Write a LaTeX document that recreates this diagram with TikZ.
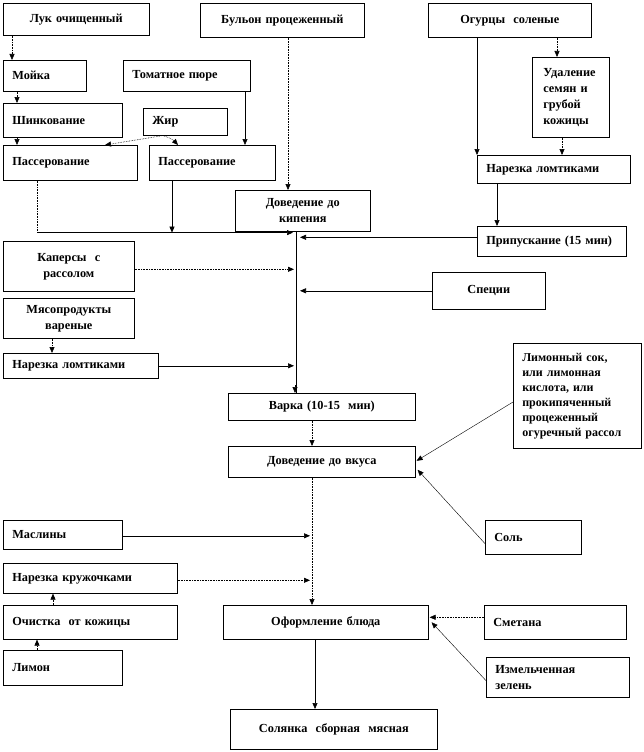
\documentclass[tikz,border=0pt]{standalone}
\usepackage{fontspec}
\setmainfont{Liberation Serif}
\usepackage{tikz}
\usetikzlibrary{positioning,calc,arrows.meta}

\begin{document}
\begin{tikzpicture}[x=1pt,y=-1pt,
    box/.style={draw, line width=0.6pt, anchor=north west, inner xsep=9pt, inner ysep=0pt,
        font=\fontsize{12.3}{16}\selectfont\bfseries},
    lbox/.style 2 args={box, minimum width=#1, minimum height=#2, text width=\dimexpr#1-18pt\relax, align=left},
    cbox/.style 2 args={box, minimum width=#1, minimum height=#2, text width=\dimexpr#1-18pt\relax, align=center},
    conn/.style={line width=0.6pt, -{Triangle[length=6pt,width=5pt]}},
    dconn/.style={conn, densely dotted},
    line/.style={line width=0.6pt}]
    \useasboundingbox (0,0) rectangle (644,752);

    % Raw products
    \node[cbox={146pt}{32pt}] (luk) at (3,3) {Лук очищенный};
    \node[cbox={164pt}{34pt}] (bulon) at (200,3) {Бульон процеженный};
    \node[cbox={163pt}{34pt}] (ogurcy) at (428,3) {Огурцы\ \ соленые};

    % Left column
    \node[lbox={83pt}{31pt}] (moika) at (3,60) {Мойка};
    \node[lbox={127pt}{31pt}] (tomat) at (123,60) {Томатное пюре};
    \node[lbox={119pt}{34pt}] (shink) at (3,103) {Шинкование};
    \node[lbox={84pt}{27pt}] (zhir) at (143,108) {Жир};
    \node[lbox={134pt}{35pt}] (pass1) at (3,145) {Пассерование};
    \node[lbox={126pt}{35pt}] (pass2) at (149,145) {Пассерование};
    \node[cbox={131pt}{50pt}] (kapers) at (3,241) {Каперсы\ \ с\\рассолом};
    \node[cbox={131pt}{40pt}] (myaso) at (3,298) {Мясопродукты\\вареные};
    \node[lbox={155pt}{25pt}] (narezL) at (3,353) {Нарезка ломтиками};
    \node[lbox={119pt}{29pt}] (masliny) at (3,520) {Маслины};
    \node[lbox={174pt}{30pt}] (krug) at (3,563) {Нарезка кружочками};
    \node[lbox={174pt}{34pt}] (ochist) at (3,605) {Очистка\ \ от кожицы};
    \node[lbox={119pt}{35pt}] (limon) at (3,650) {Лимон};

    % Right column
    \node[lbox={77pt}{80pt}, inner xsep=11pt, text width=55pt] (udalen) at (532,57) {Удаление\\семян и\\грубой\\кожицы};
    \node[lbox={153pt}{28pt}] (narezR) at (477,155) {Нарезка ломтиками};
    \node[lbox={149pt}{30pt}] (pripusk) at (477,226) {Припускание (15 мин)};
    \node[cbox={113pt}{37pt}] (specii) at (432,272) {Специи};
    \node[lbox={128pt}{105pt}, font=\fontsize{12}{15}\selectfont\bfseries] (limsok) at (513,343)
        {Лимонный сок,\\или лимонная\\кислота, или\\прокипяченный\\процеженный\\огуречный рассол};
    \node[lbox={96pt}{34pt}] (sol) at (485,520) {Соль};
    \node[lbox={142pt}{34pt}] (smetana) at (484,605) {Сметана};
    \node[lbox={143pt}{40pt}] (zelen) at (486,657) {Измельченная\\зелень};

    % Middle column
    \node[cbox={135pt}{41pt}] (kipen) at (235,190) {Доведение до\\кипения};
    \node[cbox={187pt}{27pt}] (varka) at (228,393) {Варка (10-15\ \ мин)};
    \node[cbox={187pt}{31pt}] (vkus) at (228,446) {Доведение до вкуса};
    \node[cbox={205pt}{34pt}] (oform) at (223,605) {Оформление блюда};
    \node[cbox={207pt}{40pt}] (solyanka) at (230,709) {Солянка\ \ сборная\ \ мясная};

    % Onion line
    \draw[dconn] ([xshift=9pt]luk.south west) -- ([xshift=9pt]moika.north west);
    \draw[dconn] ([xshift=14pt]moika.south west) -- ([xshift=14pt]shink.north west);
    \draw[dconn] ([xshift=14pt]shink.south west) -- ([xshift=14pt]pass1.north west);
    \draw[dconn] ([xshift=20pt]zhir.south west) -- ([xshift=102pt]pass1.north west);
    \draw[dconn] ([xshift=20pt]zhir.south west) to[bend left=15] ([xshift=29pt]pass2.north west);
    \coordinate (tp) at ([xshift=122pt]tomat.south west);
    \draw[conn] (tp) -- (tp |- pass2.north);
    \draw[dconn] ([xshift=88pt]bulon.south west) -- ([xshift=53pt]kipen.north west);

    % Cucumber line
    \draw[conn] ([xshift=49pt]ogurcy.south west) -- (narezR.north west);
    \draw[dconn] ([xshift=129pt]ogurcy.south west) -- ([xshift=25pt]udalen.north west);
    \coordinate (ud) at ([xshift=30pt]udalen.south west);
    \draw[dconn] (ud) -- (ud |- narezR.north);
    \coordinate (nr) at ([xshift=20pt]narezR.south west);
    \draw[conn] (nr) -- (nr |- pripusk.north);

    % Main trunk
    \coordinate (tk) at ([xshift=61pt]kipen.south west);
    \draw[line] (tk) -- (tk |- varka.north);
    \draw[conn] ([xshift=-1pt]tk |- varka.north) ++(0,-8) -- ([xshift=-1pt]tk |- varka.north);
    \coordinate (p1) at ([xshift=34pt]pass1.south west);
    \coordinate (p1b) at ([yshift=-1pt]p1 |- tk);
    \draw[line, densely dotted] (p1) -- (p1b);
    \draw[conn] (p1b) -- ([xshift=-3pt,yshift=-1pt]tk);
    \coordinate (p2) at ([xshift=23pt]pass2.south west);
    \draw[conn] (p2) -- ([yshift=-1pt]p2 |- tk);
    \draw[conn] ([yshift=4pt]pripusk.west) -- ([xshift=4pt,yshift=4pt]tk |- pripusk.west);
    \draw[dconn] ([yshift=-3pt]kapers.east) -- ([xshift=-2pt,yshift=-3pt]tk |- kapers.east);
    \draw[conn] (specii.west) -- ([xshift=4pt]tk |- specii.west);
    \draw[dconn] ([xshift=49pt]myaso.south west) -- ([xshift=49pt]narezL.north west);
    \draw[conn] (narezL.east) -- ([xshift=-2pt]tk |- narezL.east);

    % Seasoning
    \coordinate (tv) at ([xshift=84pt]varka.south west);
    \draw[dconn] (tv) -- (tv |- vkus.north);
    \draw[conn, line width=0.4pt] ([yshift=-59pt]limsok.north west) -- ([xshift=1pt,yshift=1pt]vkus.east);
    \draw[conn, line width=0.4pt] ([yshift=11pt]sol.south west) -- ([xshift=2pt,yshift=-8pt]vkus.east);

    % Garnish
    \coordinate (tg) at ([xshift=84pt]vkus.south west);
    \draw[dconn] (tg) -- (tg |- oform.north);
    \draw[conn] ([yshift=-1pt]masliny.east) -- ([xshift=-2pt,yshift=-1pt]tg |- masliny.east);
    \draw[dconn] ([yshift=-2pt]krug.east) -- ([xshift=-2pt,yshift=-2pt]tg |- krug.east);
    \draw[dconn] ([xshift=50pt]ochist.north west) -- ([xshift=50pt]krug.south west);
    \draw[dconn] ([xshift=34pt]limon.north west) -- ([xshift=34pt]ochist.south west);
    \draw[dconn] ([yshift=5pt]smetana.west) -- ([xshift=1pt,yshift=5pt]oform.east);
    \draw[conn, line width=0.4pt] ([yshift=17pt]zelen.south west) -- ([xshift=3pt]oform.east);
    \coordinate (to) at ([xshift=92pt]oform.south west);
    \draw[conn] (to) -- (to |- solyanka.north);
\end{tikzpicture}
\end{document}
